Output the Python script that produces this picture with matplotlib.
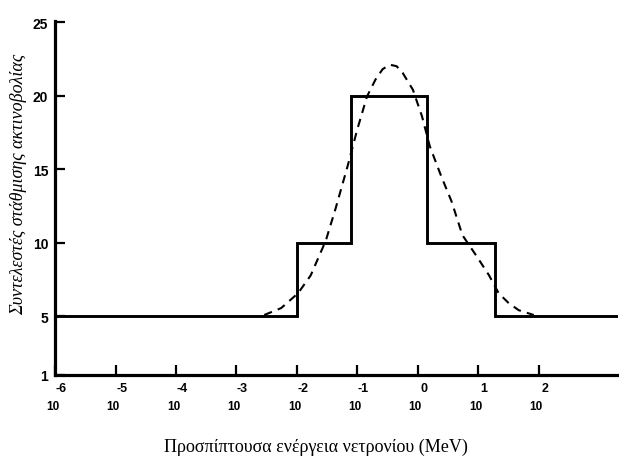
import matplotlib
matplotlib.use("Agg")
import matplotlib.pyplot as plt

# step weighting factors (log10 of energy in MeV at the edges)
step_edges = [-6.0, -2.0, -1.1, 0.15, 1.28, 3.31]
step_values = [5, 10, 20, 10, 5]

# dashed continuous curve
curve_logE = [-2.54, -2.26, -1.98, -1.77, -1.52, -1.36, -1.16, -1.0, -0.84, -0.70,
              -0.58, -0.46, -0.35, -0.25, -0.08, 0.07, 0.20, 0.39, 0.56, 0.74,
              0.97, 1.18, 1.34, 1.50, 1.67, 1.92]
curve_w = [5.07, 5.54, 6.55, 7.77, 10.14, 12.3, 15.2, 17.7, 19.93, 21.08,
           21.8, 22.1, 22.0, 21.55, 20.4, 18.6, 16.55, 14.5, 12.8, 10.5,
           9.1, 7.77, 6.55, 5.9, 5.4, 5.07]

x_ticks = [-6, -5, -4, -3, -2, -1, 0, 1, 2]
y_ticks = [1, 5, 10, 15, 20, 25]

fig = plt.figure(figsize=(6.19, 4.60), dpi=100)
ax = fig.add_axes([0.089, 0.183, 0.909, 0.770])

# step line
xs, ys = [], []
for i, v in enumerate(step_values):
    xs += [step_edges[i], step_edges[i + 1]]
    ys += [v, v]
ax.plot(xs, ys, color="black", lw=2.1, solid_joinstyle="miter")

ax.plot(curve_logE, curve_w, color="black", lw=1.5, dashes=(4, 3),
        dash_joinstyle="round")

ax.set_xlim(-6.0, 3.31)
ax.set_ylim(1, 25.1)

for s in ["top", "right"]:
    ax.spines[s].set_visible(False)
for s in ["left", "bottom"]:
    ax.spines[s].set_linewidth(2.3)

ax.set_yticks(y_ticks)
ax.set_yticklabels([str(t) for t in y_ticks], fontweight="bold",
                   family="Liberation Sans", fontsize=10)
ax.tick_params(axis="y", direction="in", length=7, width=1.6, pad=5)

ax.set_xticks(x_ticks)
ax.set_xticklabels([])
ax.tick_params(axis="x", direction="in", length=7, width=1.6)

trans = ax.get_xaxis_transform()
for e in x_ticks:
    ax.text(e - 0.04, -0.088, "10", transform=trans, ha="center", va="center",
            fontweight="bold", family="Liberation Sans", fontsize=8.5)
    ax.text(e + 0.1, -0.038, str(e), transform=trans, ha="center", va="center",
            fontweight="bold", family="Liberation Sans", fontsize=9)

fig.text(0.03, 0.60, "Συντελεστές στάθμισης ακτινοβολίας", rotation=90,
         ha="center", va="center", family="Liberation Serif", style="italic",
         fontsize=13)
fig.text(0.51, 0.027, "Προσπίπτουσα ενέργεια νετρονίου (MeV)",
         ha="center", va="center", family="Liberation Serif", fontsize=13)

fig.savefig("out.png", dpi=100)
